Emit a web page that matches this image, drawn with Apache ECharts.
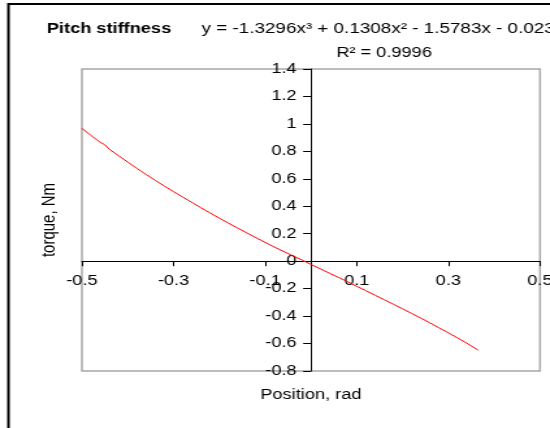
<!DOCTYPE html>
<html>
<head>
<meta charset="utf-8">
<script src="https://cdn.jsdelivr.net/npm/echarts@6/dist/echarts.min.js"></script>
<style>
  html, body { margin: 0; padding: 0; background: #fff; overflow: hidden; width: 550px; height: 428px; }
  /* the chart is laid out narrow and widened, giving the broad lettering of the sheet */
  #chart { width: 423px; height: 428px; transform: scaleX(1.3002); transform-origin: 0 0; }
</style>
</head>
<body>
<div id="chart"></div>
<script>
// Measured pitch stiffness: torque against position
const positionRad = [-0.50, -0.48, -0.46, -0.45, -0.44, -0.42, -0.40, -0.38, -0.36, -0.34,
  -0.32, -0.30, -0.28, -0.26, -0.24, -0.22, -0.20, -0.18, -0.16, -0.14,
  -0.12, -0.10, -0.08, -0.06, -0.04, -0.02, 0.00, 0.02, 0.04, 0.06,
  0.08, 0.10, 0.12, 0.14, 0.16, 0.18, 0.20, 0.22, 0.24, 0.26,
  0.28, 0.30, 0.32, 0.34, 0.365];
const torqueNm = [0.968, 0.915, 0.866, 0.848, 0.815, 0.768, 0.722, 0.676, 0.632, 0.589,
  0.547, 0.507, 0.467, 0.428, 0.389, 0.351, 0.313, 0.277, 0.241, 0.206,
  0.171, 0.137, 0.103, 0.071, 0.040, 0.009, -0.024, -0.055, -0.087, -0.118,
  -0.150, -0.183, -0.215, -0.248, -0.281, -0.314, -0.347, -0.381, -0.415, -0.450,
  -0.486, -0.522, -0.559, -0.597, -0.648];
const xTickValues = [-0.5, -0.3, -0.1, 0.1, 0.3, 0.5];
const xMin = -0.5, xMax = 0.5;
const yMin = -0.8, yMax = 1.4, yStep = 0.2;

const chartTitle = 'Pitch stiffness';
const fitEquation = 'y = -1.3296x³ + 0.1308x² - 1.5783x - 0.023';
const fitR2 = 'R² = 0.9996';
const xTitle = 'Position, rad';
const yTitle = 'torque, Nm';

const FONT = '"Liberation Sans", Arial, sans-serif';

// plot rectangle (layout px, before the horizontal widening)
const W = 423, H = 428;
const plot = { left: 63, right: 7.7, top: 69, bottom: 57 };
const plotW = W - plot.left - plot.right;
const plotH = H - plot.top - plot.bottom;
// the axes cross at the origin, so each one is pulled in from the plot edge
const yAxisShift = plotW * (0 - xMin) / (xMax - xMin);
const xAxisShift = plotH * (0 - yMin) / (yMax - yMin);

const chart = echarts.init(document.getElementById('chart'));

chart.setOption({
  animation: false,
  backgroundColor: '#fff',
  grid: {
    left: plot.left, right: plot.right, top: plot.top, bottom: plot.bottom,
    show: true, borderColor: '#a8a8a8', borderWidth: 1.5, backgroundColor: '#fff',
    containLabel: false, outerBoundsMode: 'none'
  },
  xAxis: {
    type: 'value', min: xMin, max: xMax, position: 'bottom', offset: -xAxisShift,
    name: xTitle, nameLocation: 'middle', nameGap: 127,
    nameTextStyle: { color: '#000', fontSize: 14, fontFamily: FONT },
    axisLine: { onZero: false, lineStyle: { color: '#000', width: 1 } },
    axisTick: { show: true, inside: false, length: 5, customValues: xTickValues, lineStyle: { color: '#000' } },
    axisLabel: { customValues: xTickValues, margin: 13, color: '#000', fontSize: 14, fontFamily: FONT,
      formatter: v => String(Math.round(v * 10) / 10) },
    splitLine: { show: false }
  },
  yAxis: {
    type: 'value', min: yMin, max: yMax, interval: yStep, position: 'left', offset: -yAxisShift,
    name: yTitle, nameLocation: 'middle', nameRotate: 90, nameGap: 194,
    nameTextStyle: { color: '#000', fontSize: 15, fontFamily: FONT },
    axisLine: { onZero: false, lineStyle: { color: '#000', width: 1 } },
    axisTick: { show: true, inside: false, length: 6, lineStyle: { color: '#000' } },
    axisLabel: { margin: 11, color: '#000', fontSize: 14, fontFamily: FONT,
      formatter: v => String(Math.round(v * 10) / 10) },
    splitLine: { show: false }
  },
  series: [{
    type: 'line',
    data: positionRad.map((x, i) => [x, torqueNm[i]]),
    showSymbol: false,
    lineStyle: { color: '#ff0000', width: 1 },
    z: 5
  }],
  graphic: [
    { type: 'rect', silent: true, shape: { x: 6.5, y: 4, width: 700, height: 700 },
      style: { fill: 'none', stroke: '#000', lineWidth: 2 } },
    { type: 'text', x: 36, y: 29,
      style: { text: chartTitle, font: 'bold 14px ' + FONT, fill: '#000', align: 'left', verticalAlign: 'middle' } },
    { type: 'text', x: 155, y: 29,
      style: { text: fitEquation, font: '14.5px ' + FONT, fill: '#000', align: 'left', verticalAlign: 'middle' } },
    { type: 'text', x: 295.4, y: 53,
      style: { text: fitR2, font: '14px ' + FONT, fill: '#000', align: 'center', verticalAlign: 'middle' } }
  ]
});
</script>
</body>
</html>
